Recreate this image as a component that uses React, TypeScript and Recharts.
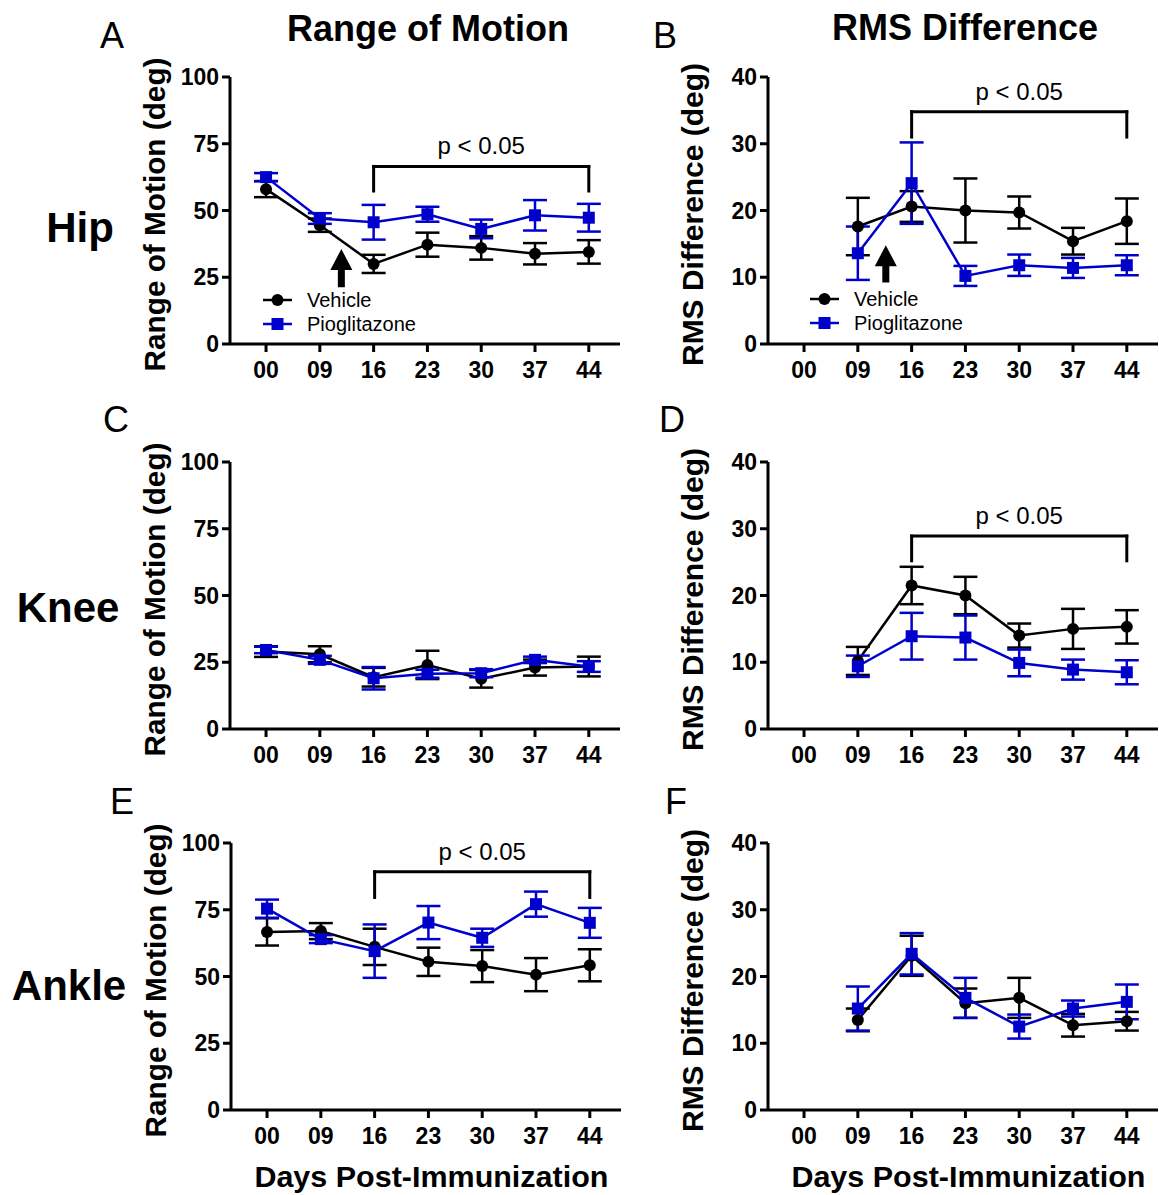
import React from 'react';
import { LineChart, Line, XAxis, YAxis, ErrorBar, ReferenceLine, Legend } from 'recharts';

const FONT = '"Liberation Sans", Arial, Helvetica, sans-serif';
const BLUE = '#0000CC';

// x categories (days post-immunization)
const days = ['00', '09', '16', '23', '30', '37', '44'];
const romTicks = [0, 25, 50, 75, 100];
const rmsTicks = [0, 10, 20, 30, 40];

// Hip - range of motion
const hipRomVeh = [58, 44.5, 30, 37.2, 36, 33.8, 34.5];
const hipRomVehErr = [3, 2.5, 3.4, 4.5, 4.4, 4, 4.4];
const hipRomPio = [62.5, 47, 45.6, 48.6, 43.1, 48.2, 47.3];
const hipRomPioErr = [1.5, 2, 6.5, 2.8, 3.5, 5.7, 5.2];

// Hip - RMS difference (no day 00)
const hipRmsVeh = [null, 17.6, 20.6, 20.0, 19.7, 15.4, 18.4];
const hipRmsVehErr = [null, 4.3, 2.3, 4.8, 2.4, 2.0, 3.4];
const hipRmsPio = [null, 13.6, 24.1, 10.2, 11.8, 11.4, 11.8];
const hipRmsPioErr = [null, 4.0, 6.1, 1.5, 1.6, 1.5, 1.5];

// Knee - range of motion
const kneeRomVeh = [29, 28, 19.4, 24, 18.8, 23, 23.4];
const kneeRomVehErr = [2, 3, 3.5, 5.3, 3.3, 3, 3.7];
const kneeRomPio = [29.6, 25.9, 19, 20.7, 20.9, 25.9, 23.4];
const kneeRomPioErr = [1.2, 1.5, 4.2, 1.5, 1.5, 1.2, 2];

// Knee - RMS difference
const kneeRmsVeh = [null, 10.2, 21.5, 20.0, 14.0, 15.0, 15.3];
const kneeRmsVehErr = [null, 2.1, 2.8, 2.8, 1.8, 3.0, 2.5];
const kneeRmsPio = [null, 9.4, 13.9, 13.7, 9.9, 8.9, 8.5];
const kneeRmsPioErr = [null, 1.6, 3.5, 3.3, 2.0, 1.5, 1.8];

// Ankle - range of motion
const ankleRomVeh = [66.7, 67, 61.1, 55.5, 53.9, 50.7, 54.2];
const ankleRomVehErr = [5.1, 3, 6.8, 5.3, 6, 6.2, 6];
const ankleRomPio = [75.4, 64, 59.5, 70.2, 64.5, 77.1, 70.1];
const ankleRomPioErr = [3.4, 1.5, 10, 6.2, 3.4, 4.7, 5.6];

// Ankle - RMS difference
const ankleRmsVeh = [null, 13.5, 23.1, 16.0, 16.8, 12.7, 13.3];
const ankleRmsVehErr = [null, 1.7, 3.0, 2.2, 3.0, 1.7, 1.4];
const ankleRmsPio = [null, 15.2, 23.4, 16.8, 12.5, 15.2, 16.2];
const ankleRmsPioErr = [null, 3.3, 3.1, 3.0, 1.8, 1.2, 2.6];

const seriesNames = ['Vehicle', 'Pioglitazone'];

const X_DOMAIN: [number, number] = [-0.67, 6.58];
const PLOT_W = 390;
const PLOT_H = 267;
const Y_AXIS_W = 100;
const TOP_PAD = 30;
const X_AXIS_H = 90;

function buildRows(veh, vehErr, pio, pioErr) {
  return days
    .map((d, i) => ({ x: i, veh: veh[i], vehErr: vehErr[i], pio: pio[i], pioErr: pioErr[i] }))
    .filter(r => r.veh != null);
}

const squareDot = (p) => (
  <rect key={`sq-${p.index}`} x={p.cx - 6} y={p.cy - 6} width={12} height={12} fill={BLUE} />
);

// rotated y-axis title, stretched to the length it has in the figure
const yLabel = (text, len) => (props) => {
  const vb = props.viewBox;
  const bx = vb.x + vb.width - 65;
  const cy = vb.y + vb.height / 2 + 4;
  return (
    <text x={bx} y={cy} transform={`rotate(-90 ${bx} ${cy})`} textAnchor="middle"
      fontSize={29} fontWeight={700} fontFamily={FONT} fill="#000"
      textLength={len} lengthAdjust="spacingAndGlyphs">{text}</text>
  );
};

const xTitle = (props) => {
  const vb = props.viewBox;
  const cx = vb.x + vb.width * ((3 - X_DOMAIN[0]) / (X_DOMAIN[1] - X_DOMAIN[0])) + 3;
  return (
    <text x={cx} y={vb.y + 77} textAnchor="middle" fontSize={29} fontWeight={700}
      fontFamily={FONT} fill="#000" textLength={354} lengthAdjust="spacingAndGlyphs">
      Days Post-Immunization
    </text>
  );
};

const arrowShape = (p) => {
  const cx = p.x1;
  const tip = Math.min(p.y1, p.y2);
  const base = Math.max(p.y1, p.y2);
  const pts = [
    [cx, tip], [cx + 11, tip + 21], [cx + 3.5, tip + 21], [cx + 3.5, base],
    [cx - 3.5, base], [cx - 3.5, tip + 21], [cx - 11, tip + 21],
  ].map(q => q.join(',')).join(' ');
  return <polygon points={pts} fill="#000" />;
};

function LegendBox() {
  return (
    <div style={{ fontFamily: FONT, fontSize: 20, color: '#000' }}>
      {seriesNames.map((name, i) => (
        <div key={name} style={{ display: 'flex', alignItems: 'center', height: 24 }}>
          <svg width={44} height={20} style={{ flexShrink: 0 }}>
            <line x1={0} y1={10} x2={29} y2={10} stroke={i === 0 ? '#000' : BLUE} strokeWidth={2.5} />
            {i === 0
              ? <circle cx={14.5} cy={10} r={6} fill="#000" />
              : <rect x={8.5} y={4} width={12} height={12} fill={BLUE} />}
          </svg>
          <span style={{ lineHeight: '20px' }}>{name}</span>
        </div>
      ))}
    </div>
  );
}

function Panel({ axisX, plotTop, rows, yMax, yTicks, label, labelLen, bracket, arrow, legendAt, showXTitle }) {
  const axisStyle = { stroke: '#000', strokeWidth: 3 };
  const tickFont = { fill: '#000', fontWeight: 700, fontFamily: FONT };
  const chartLeft = axisX - Y_AXIS_W;
  const chartTop = plotTop - TOP_PAD;
  return (
    <div style={{ position: 'absolute', left: chartLeft, top: chartTop }}>
      <LineChart width={Y_AXIS_W + PLOT_W} height={TOP_PAD + PLOT_H + X_AXIS_H} data={rows}
        margin={{ top: TOP_PAD, right: 0, left: 0, bottom: 0 }}>
        <XAxis dataKey="x" type="number" domain={X_DOMAIN} ticks={[0, 1, 2, 3, 4, 5, 6]}
          tickFormatter={(v) => days[v]} height={X_AXIS_H} interval={0} allowDataOverflow
          axisLine={axisStyle} tickLine={axisStyle} tickSize={8} tickMargin={10}
          tick={{ ...tickFont, fontSize: 23 }} label={showXTitle ? xTitle : undefined} />
        <YAxis type="number" domain={[0, yMax]} ticks={yTicks} width={Y_AXIS_W} interval={0}
          axisLine={axisStyle} tickLine={axisStyle} tickSize={8} tickMargin={3}
          tick={{ ...tickFont, fontSize: 23 }} label={yLabel(label, labelLen)} />
        {bracket && (
          <ReferenceLine segment={[{ x: 2, y: bracket.top }, { x: 6, y: bracket.top }]}
            stroke="#000" strokeWidth={3} strokeLinecap="square"
            label={{ value: 'p < 0.05', position: 'top', offset: 12, fill: '#000', fontSize: 24, fontFamily: FONT }} />
        )}
        {bracket && (
          <ReferenceLine segment={[{ x: 2, y: bracket.low }, { x: 2, y: bracket.top }]}
            stroke="#000" strokeWidth={3} strokeLinecap="square" />
        )}
        {bracket && (
          <ReferenceLine segment={[{ x: 6, y: bracket.low }, { x: 6, y: bracket.top }]}
            stroke="#000" strokeWidth={3} strokeLinecap="square" />
        )}
        {arrow && (
          <ReferenceLine segment={[{ x: arrow.x, y: arrow.base }, { x: arrow.x, y: arrow.tip }]}
            shape={arrowShape} />
        )}
        <Line dataKey="veh" name={seriesNames[0]} stroke="#000" strokeWidth={2.5}
          dot={{ r: 6, fill: '#000', stroke: '#000', strokeWidth: 0 }} activeDot={false}
          isAnimationActive={false}>
          <ErrorBar dataKey="vehErr" direction="y" width={12} stroke="#000" strokeWidth={2.5} isAnimationActive={false} />
        </Line>
        <Line dataKey="pio" name={seriesNames[1]} stroke={BLUE} strokeWidth={2.5}
          dot={squareDot} activeDot={false} isAnimationActive={false}>
          <ErrorBar dataKey="pioErr" direction="y" width={12} stroke={BLUE} strokeWidth={2.5} isAnimationActive={false} />
        </Line>
        {legendAt && (
          <Legend layout="vertical" align="center" verticalAlign="middle"
            wrapperStyle={{ left: legendAt.left, top: legendAt.top, width: 'auto', height: 'auto' }}
            content={() => <LegendBox />} />
        )}
      </LineChart>
    </div>
  );
}

export default function App() {
  const txt = { fontFamily: FONT, fill: '#000' };
  return (
    <div style={{ position: 'absolute', left: 0, top: 0, width: 1159, height: 1195, background: '#fff', overflow: 'hidden' }}>
      <svg width={1159} height={1195} style={{ position: 'absolute', left: 0, top: 0 }}>
        <text x={112} y={48} textAnchor="middle" fontSize={36} {...txt}>A</text>
        <text x={665} y={48} textAnchor="middle" fontSize={36} {...txt}>B</text>
        <text x={116} y={432} textAnchor="middle" fontSize={36} {...txt}>C</text>
        <text x={672} y={432} textAnchor="middle" fontSize={36} {...txt}>D</text>
        <text x={122} y={814} textAnchor="middle" fontSize={36} {...txt}>E</text>
        <text x={676} y={814} textAnchor="middle" fontSize={36} {...txt}>F</text>
        <text x={428} y={41} textAnchor="middle" fontSize={36} fontWeight={700} {...txt}>Range of Motion</text>
        <text x={965} y={40} textAnchor="middle" fontSize={36} fontWeight={700} {...txt}>RMS Difference</text>
        <text x={80} y={242} textAnchor="middle" fontSize={42} fontWeight={700} {...txt}>Hip</text>
        <text x={68} y={622} textAnchor="middle" fontSize={42} fontWeight={700} {...txt}>Knee</text>
        <text x={69} y={1000} textAnchor="middle" fontSize={42} fontWeight={700} {...txt}>Ankle</text>
      </svg>

      <Panel axisX={230} plotTop={77} yMax={100} yTicks={romTicks} label="Range of Motion (deg)" labelLen={314}
        rows={buildRows(hipRomVeh, hipRomVehErr, hipRomPio, hipRomPioErr)}
        bracket={{ top: 66.5, low: 57.3 }} arrow={{ x: 1.4, base: 21.3, tip: 35.6 }}
        legendAt={{ left: 133, top: 241 }} />
      <Panel axisX={768} plotTop={77} yMax={40} yTicks={rmsTicks} label="RMS Difference (deg)" labelLen={303}
        rows={buildRows(hipRmsVeh, hipRmsVehErr, hipRmsPio, hipRmsPioErr)}
        bracket={{ top: 34.8, low: 31.0 }} arrow={{ x: 1.52, base: 9.2, tip: 14.8 }}
        legendAt={{ left: 142, top: 240 }} />

      <Panel axisX={230} plotTop={462} yMax={100} yTicks={romTicks} label="Range of Motion (deg)" labelLen={314}
        rows={buildRows(kneeRomVeh, kneeRomVehErr, kneeRomPio, kneeRomPioErr)} />
      <Panel axisX={768} plotTop={462} yMax={40} yTicks={rmsTicks} label="RMS Difference (deg)" labelLen={303}
        rows={buildRows(kneeRmsVeh, kneeRmsVehErr, kneeRmsPio, kneeRmsPioErr)}
        bracket={{ top: 28.9, low: 25.2 }} />

      <Panel axisX={231} plotTop={843} yMax={100} yTicks={romTicks} label="Range of Motion (deg)" labelLen={314}
        rows={buildRows(ankleRomVeh, ankleRomVehErr, ankleRomPio, ankleRomPioErr)}
        bracket={{ top: 89.2, low: 79.6 }} showXTitle />
      <Panel axisX={768} plotTop={843} yMax={40} yTicks={rmsTicks} label="RMS Difference (deg)" labelLen={303}
        rows={buildRows(ankleRmsVeh, ankleRmsVehErr, ankleRmsPio, ankleRmsPioErr)} showXTitle />
    </div>
  );
}
